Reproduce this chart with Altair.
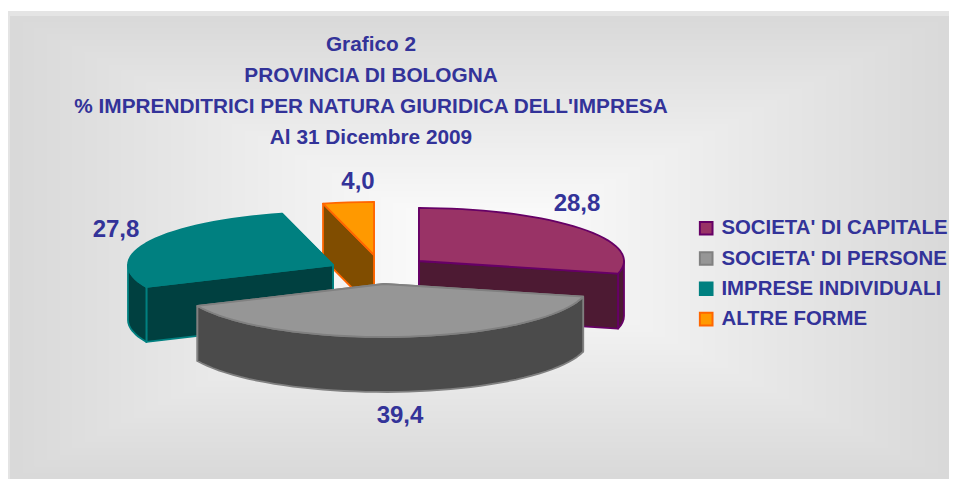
import math
import altair as alt
import pandas as pd

TITLE_LINES = ["Grafico 2", "PROVINCIA DI BOLOGNA",
               "% IMPRENDITRICI PER NATURA GIURIDICA DELL'IMPRESA", "Al 31 Dicembre 2009"]
CATEGORIES = ["SOCIETA' DI CAPITALE", "SOCIETA' DI PERSONE", "IMPRESE INDIVIDUALI", "ALTRE FORME"]
VALUES = [28.8, 39.4, 27.8, 4.0]
TOP_COLORS = ["#993366", "#969696", "#008080", "#FF9900"]
WALL_COLORS = ["#4D1A33", "#4B4B4B", "#004040", "#804D00"]
LINE_COLORS = ["#660066", "#808080", "#008080", "#FF6600"]
CENTERS = [(419, 261), (384, 284), (333, 265), (374, 255)]   # exploded slice apexes
LABEL_POS = [(577, 204), (400, 416), (116, 230), (358, 182)]
DRAW_ORDER = [3, 2, 0, 1]

RX, RY, DEPTH = 205, 53, 55
X_DOM, Y_DOM = [8, 949], [8, 479]
W, H = 941, 471
FONT = "Liberation Sans"
INK = "#333399"

xs = alt.X("x:Q", scale=alt.Scale(domain=X_DOM), axis=None)
ys = alt.Y("y:Q", scale=alt.Scale(domain=Y_DOM, reverse=True), axis=None)
xs2 = alt.X2("x2:Q")
ys2 = alt.Y2("y2:Q")


def pt(c, deg, drop=0):
    a = math.radians(deg)
    return (c[0] + RX * math.sin(a), c[1] - RY * math.cos(a) + drop)


def arc(c, a0, a1, drop=0, n=None):
    n = n or max(2, int(abs(a1 - a0) / 3))
    return [pt(c, a0 + (a1 - a0) * k / n, drop) for k in range(n + 1)]


# background: nested rectangles stepping from grey edge to white centre
bg_rows = [{"x": 8, "x2": 949, "y": 11, "y2": 479, "c": "#e4e4e4"},
           {"x": 10, "x2": 949, "y": 16, "y2": 479, "c": "#d9d9d9"}]
STEPS = 38
for k in range(STEPS):
    f = 1 - k / STEPS
    g = int(round(255 - 38 * f))
    bg_rows.append({"x": 480 - 470 * f, "x2": 480 + 470 * f, "y": 245 - 229 * f, "y2": 245 + 234 * f,
                    "c": f"#{g:02x}{g:02x}{g:02x}"})
background = alt.Chart(pd.DataFrame(bg_rows)).mark_rect(strokeWidth=0, clip=True).encode(
    x=xs, x2=xs2, y=ys, y2=ys2, fill=alt.Fill("c:N", scale=None))

# slice angles from the values
starts, acc = [], 0.0
for v in VALUES:
    starts.append(acc)
    acc += v
total = sum(VALUES)

layers = [background]
color_scale = alt.Scale(domain=CATEGORIES, range=TOP_COLORS)
stroke_scale = alt.Scale(domain=CATEGORIES, range=LINE_COLORS)
legend = alt.Legend(orient="none", legendX=688, legendY=210, title=None, symbolType="square",
                    symbolSize=160, symbolStrokeWidth=2, labelFont=FONT, labelFontSize=20.4,
                    labelFontWeight="bold", labelColor=INK, labelLimit=400, rowPadding=8.3,
                    labelOffset=5, symbolOpacity=1)

for s in DRAW_ORDER:
    c = CENTERS[s]
    a0 = starts[s] / total * 360
    a1 = (starts[s] + VALUES[s]) / total * 360
    polys = []
    for a in (a1, a0):
        p = pt(c, a)
        polys.append([c, p, (p[0], p[1] + DEPTH), (c[0], c[1] + DEPTH)])
    lo, hi = max(a0, 90), min(a1, 270)
    if lo < hi:
        polys.append(arc(c, lo, hi) + arc(c, hi, lo, DEPTH))
    wall_rows = []
    for pi, poly in enumerate(polys):
        for i, (x, y) in enumerate(poly):
            wall_rows.append({"x": x, "y": y, "i": i, "p": f"{s}-{pi}",
                              "w": WALL_COLORS[s], "l": LINE_COLORS[s]})
    layers.append(alt.Chart(pd.DataFrame(wall_rows)).mark_line(
        interpolate="linear-closed", strokeWidth=1.8, strokeJoin="round").encode(
        x=xs, y=ys, order="i:Q", detail="p:N",
        fill=alt.Fill("w:N", scale=None), stroke=alt.Stroke("l:N", scale=None)))
    top = [c] + arc(c, a0, a1)
    top_rows = [{"x": x, "y": y, "i": i, "cat": CATEGORIES[s]} for i, (x, y) in enumerate(top)]
    layers.append(alt.Chart(pd.DataFrame(top_rows)).mark_line(
        interpolate="linear-closed", strokeWidth=1.8, strokeJoin="round").encode(
        x=xs, y=ys, order="i:Q",
        fill=alt.Fill("cat:N", scale=color_scale, legend=legend),
        stroke=alt.Stroke("cat:N", scale=stroke_scale, legend=legend)))

labels = pd.DataFrame({"x": [p[0] for p in LABEL_POS], "y": [p[1] for p in LABEL_POS],
                       "t": [f"{v:.1f}".replace(".", ",") for v in VALUES]})
layers.append(alt.Chart(labels).mark_text(font=FONT, fontSize=24, fontWeight="bold", color=INK,
                                          align="center", baseline="middle").encode(x=xs, y=ys, text="t:N"))

title = alt.TitleParams(text=TITLE_LINES, font=FONT, fontSize=20.8, fontWeight="bold", color=INK,
                        anchor="start", align="center", dx=363, offset=-161, lineHeight=31,
                        baseline="bottom")

chart = alt.layer(*layers, title=title).properties(
    width=W, height=H, padding=0, autosize=alt.AutoSizeParams(type="none"), background="white"
).configure_view(stroke=None)

chart.save("out.html", embed_options={"renderer": "svg", "actions": False})
